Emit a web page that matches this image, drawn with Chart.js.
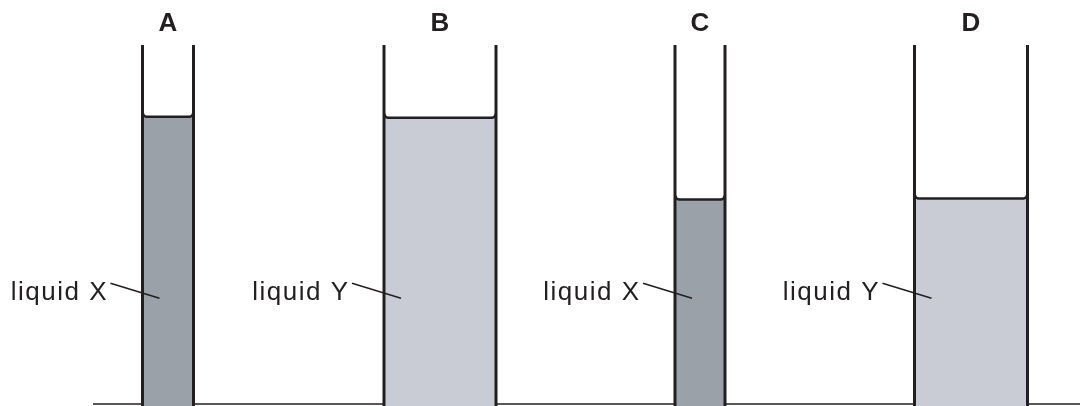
<!DOCTYPE html>
<html>
<head>
<meta charset="utf-8">
<script src="https://cdn.jsdelivr.net/npm/chart.js@4/dist/chart.umd.min.js"></script>
<style>
  html, body { margin: 0; padding: 0; background: #fff; }
  #wrap { width: 1080px; height: 406px; position: relative; }
</style>
</head>
<body>
<div id="wrap"><canvas id="tubes"></canvas></div>
<script>
// tube data (x in arbitrary length units, y in height units above the bench)
const tubeLabels = ["A", "B", "C", "D"];
const liquidNames = ["liquid X", "liquid Y", "liquid X", "liquid Y"];
const tubeCentre = [16.8, 44.0, 70.0, 97.1];
const tubeWidth = [5.1, 11.2, 5.0, 11.3];
const liquidLevel = [28.8, 28.7, 20.5, 20.6];
const tubeHeight = 36;

const ink = "#231f20";
const liquidColour = { "liquid X": "#9ba1a9", "liquid Y": "#c9ccd4" };
const floor = -0.2;

const datasets = [];

// bench line
datasets.push({
  data: [{ x: 9.3, y: 0 }, { x: 108, y: 0 }],
  borderColor: ink,
  borderWidth: 1.5,
  pointRadius: 0,
  fill: false,
  order: 4,
});

tubeLabels.forEach((lab, i) => {
  const l = tubeCentre[i] - tubeWidth[i] / 2;
  const r = tubeCentre[i] + tubeWidth[i] / 2;
  const lv = liquidLevel[i];

  // liquid with meniscus
  datasets.push({
    data: [
      { x: l, y: lv + 0.4 },
      { x: l + 0.15, y: lv + 0.1 },
      { x: l + 0.4, y: lv },
      { x: r - 0.4, y: lv },
      { x: r - 0.15, y: lv + 0.1 },
      { x: r, y: lv + 0.4 },
    ],
    borderColor: ink,
    borderWidth: 2.5,
    borderJoinStyle: "round",
    backgroundColor: liquidColour[liquidNames[i]],
    fill: { value: floor },
    pointRadius: 0,
    order: 3,
  });

  // glass walls
  datasets.push({
    data: [
      { x: l, y: tubeHeight },
      { x: l, y: floor },
      { x: l, y: null },
      { x: r, y: floor },
      { x: r, y: tubeHeight },
    ],
    borderColor: ink,
    borderWidth: 3,
    pointRadius: 0,
    fill: false,
    order: 1,
  });

  // leader line for the label
  datasets.push({
    data: [{ x: l - 3.2, y: 12.1 }, { x: l + 1.7, y: 10.6 }],
    borderColor: ink,
    borderWidth: 1.5,
    pointRadius: 0,
    fill: false,
    order: 0,
  });
});

const liquidText = {
  id: "liquidText",
  afterDatasetsDraw(chart) {
    const { ctx, scales } = chart;
    ctx.save();
    ctx.fillStyle = ink;
    ctx.font = "26px 'Liberation Sans', Arial, sans-serif";
    ctx.letterSpacing = "1.5px";
    ctx.textAlign = "right";
    ctx.textBaseline = "alphabetic";
    liquidNames.forEach((name, i) => {
      const l = tubeCentre[i] - tubeWidth[i] / 2;
      ctx.fillText(name, scales.x.getPixelForValue(l - 3.6) + 1.5, scales.y.getPixelForValue(10.45));
    });
    ctx.restore();
  },
};

new Chart(document.querySelector("#tubes"), {
  type: "line",
  data: { datasets },
  options: {
    responsive: true,
    maintainAspectRatio: false,
    animation: false,
    layout: { padding: 0 },
    plugins: { legend: { display: false }, tooltip: { enabled: false } },
    scales: {
      x: {
        type: "linear",
        position: "top",
        min: 0,
        max: 108,
        afterBuildTicks: (s) => { s.ticks = tubeCentre.map((v) => ({ value: v })); },
        afterFit: (s) => { s.height = 45; },
        ticks: {
          autoSkip: false,
          maxRotation: 0,
          padding: 6,
          color: ink,
          font: { family: "'Liberation Sans', Arial, sans-serif", size: 26, weight: "bold" },
          callback: (v, idx) => tubeLabels[idx],
        },
        grid: { display: false, drawTicks: false },
        border: { display: false },
      },
      y: {
        display: false,
        min: floor,
        max: tubeHeight,
      },
    },
  },
  plugins: [liquidText],
});
</script>
</body>
</html>
